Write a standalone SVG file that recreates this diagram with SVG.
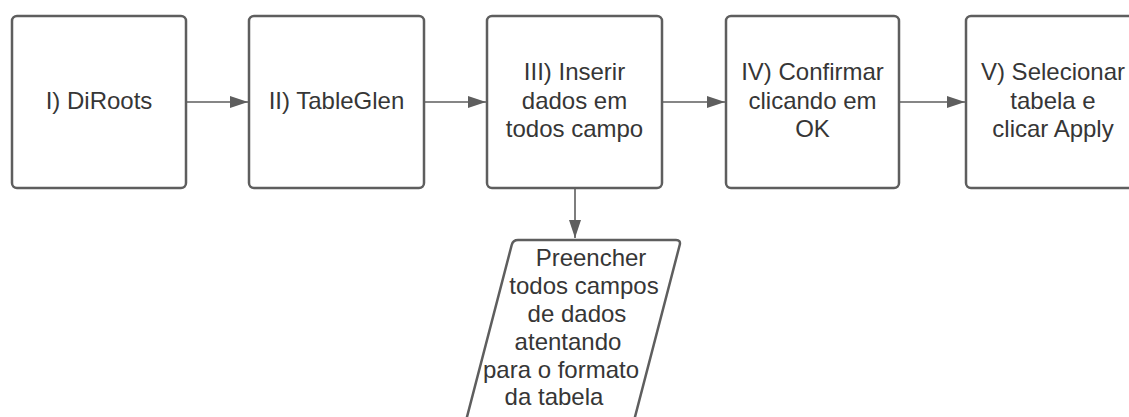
<svg xmlns="http://www.w3.org/2000/svg" width="1129" height="417" viewBox="0 0 1129 417">
<style>
.box{fill:#ffffff;stroke:#5e5e5e;stroke-width:2.5}
.conn{fill:none;stroke:#5e5e5e;stroke-width:1.6}
text{font-family:"Liberation Sans",Arial,sans-serif;font-size:24px;fill:#363636;text-anchor:middle}
</style>
<defs>
<marker id="arrow" viewBox="0 0 18 12" refX="18" refY="6" markerWidth="18" markerHeight="12" markerUnits="userSpaceOnUse" orient="auto">
<path d="M0,0 L18,6 L0,12 z" fill="#5e5e5e"/>
</marker>
</defs>
<rect width="1129" height="417" fill="#ffffff"/>
<g id="connectors">
<line class="conn" x1="186" y1="102" x2="248" y2="102" marker-end="url(#arrow)"/>
<line class="conn" x1="424" y1="102" x2="486" y2="102" marker-end="url(#arrow)"/>
<line class="conn" x1="662" y1="102" x2="725" y2="102" marker-end="url(#arrow)"/>
<line class="conn" x1="899" y1="102" x2="965" y2="102" marker-end="url(#arrow)"/>
<line class="conn" x1="575" y1="188" x2="575" y2="238" marker-end="url(#arrow)"/>
</g>
<g id="n1">
<rect class="box" x="12" y="16" width="174" height="172" rx="5"/>
<text x="99" y="108.5">I) DiRoots</text>
</g>
<g id="n2">
<rect class="box" x="249" y="16" width="175" height="172" rx="5"/>
<text x="336.5" y="108.5">II) TableGlen</text>
</g>
<g id="n3">
<rect class="box" x="487" y="16" width="175" height="172" rx="5"/>
<text x="574.5" y="80">III) Inserir</text>
<text x="574.5" y="108.5">dados em</text>
<text x="574.5" y="137">todos campo</text>
</g>
<g id="n4">
<rect class="box" x="726" y="16" width="173" height="172" rx="5"/>
<text x="812.5" y="80">IV) Confirmar</text>
<text x="812.5" y="108.5">clicando em</text>
<text x="812.5" y="137">OK</text>
</g>
<g id="n5">
<rect class="box" x="966" y="16" width="174" height="172" rx="5"/>
<text x="1053" y="80">V) Selecionar</text>
<text x="1053" y="108.5">tabela e</text>
<text x="1053" y="137">clicar Apply</text>
</g>
<g id="n6">
<path class="box" d="M518,240 H676 Q681,240 679.7,245 L623.8,460 L455.8,460 L511.7,245 Q513,240 518,240 Z"/>
<text x="591" y="266">Preencher</text>
<text x="584" y="294">todos campos</text>
<text x="577" y="322">de dados</text>
<text x="568" y="350">atentando</text>
<text x="561" y="378">para o formato</text>
<text x="554" y="405">da tabela</text>
</g>
</svg>
